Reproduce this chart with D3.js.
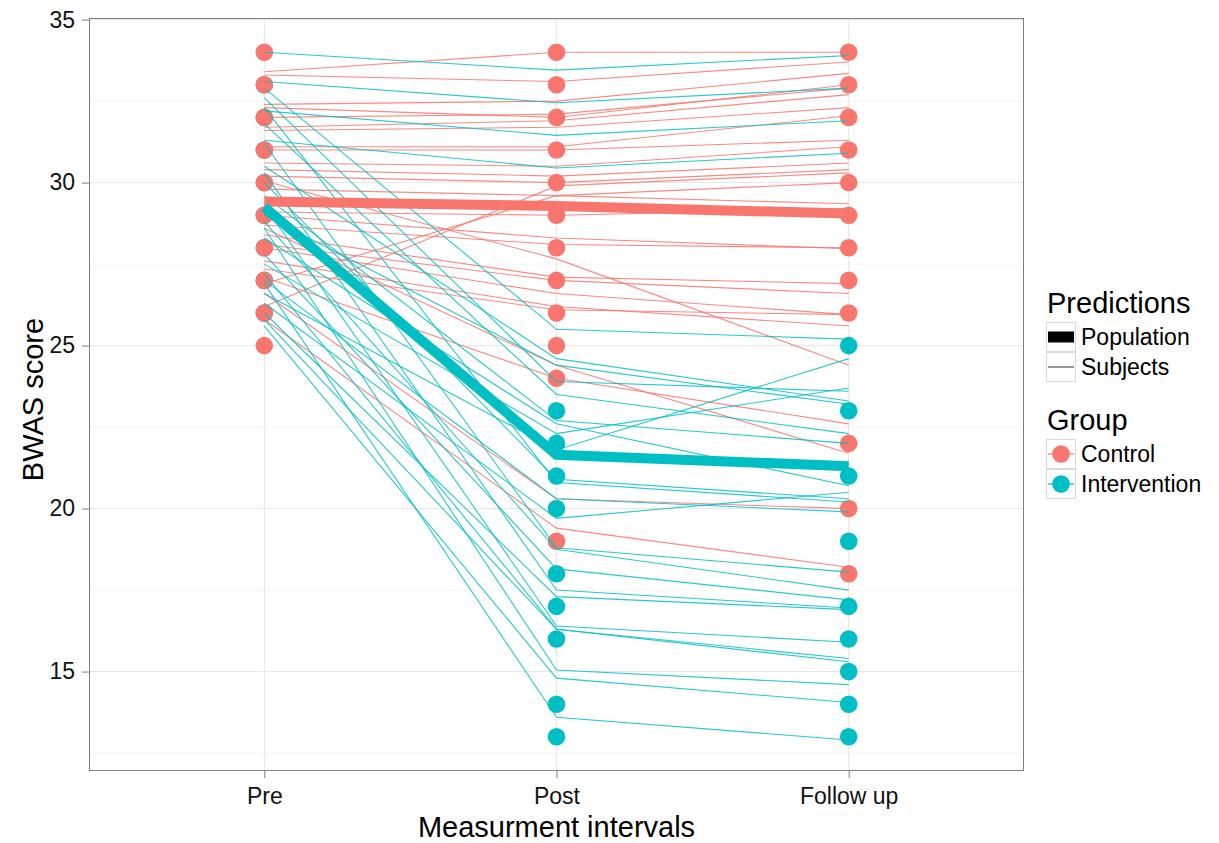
<!DOCTYPE html>
<html>
<head>
<meta charset="utf-8">
<script src="https://cdn.jsdelivr.net/npm/d3@7"></script>
<style>
  html, body { margin: 0; padding: 0; background: #fff; }
  svg text { font-family: "Liberation Sans", Arial, sans-serif; }
</style>
</head>
<body>
<svg id="chart" width="1219" height="843"></svg>
<script>
// Measurement occasions and axis ticks
const timepoints = ["Pre", "Post", "Follow up"];
const yTicks = [15, 20, 25, 30, 35];
const yMinorTicks = [12.5, 17.5, 22.5, 27.5, 32.5];

// Observed BWAS scores (distinct values shown at each occasion)
const controlObsPre = [25, 26, 27, 28, 29, 30, 31, 32, 33, 34];
const controlObsPost = [19, 24, 25, 26, 27, 28, 29, 30, 31, 32, 33, 34];
const controlObsFollow = [18, 20, 22, 26, 27, 28, 29, 30, 31, 32, 33, 34];
const interventionObsPre = [26, 27, 28, 29, 30, 31, 32, 33];
const interventionObsPost = [13, 14, 16, 17, 18, 20, 21, 22, 23];
const interventionObsFollow = [13, 14, 15, 16, 17, 19, 21, 23, 25];

// Model predictions per subject: [Pre, Post, Follow up]
const controlSubjects = [
  [33.4, 34.0, 34.0], [33.3, 33.1, 33.7], [32.4, 32.5, 33.35], [32.3, 32.0, 33.0],
  [32.0, 32.1, 32.9], [31.7, 31.9, 32.7], [31.6, 31.7, 32.3], [31.1, 31.1, 32.05],
  [31.0, 31.0, 31.3], [30.6, 30.5, 31.1], [30.4, 30.2, 30.6], [30.2, 30.0, 30.4],
  [29.8, 29.6, 30.0], [29.1, 29.0, 29.2], [29.0, 28.3, 27.97], [28.7, 28.1, 28.0],
  [30.05, 27.66, 24.4], [28.4, 27.1, 26.9], [28.1, 27.0, 26.6], [28.0, 26.6, 25.95],
  [27.6, 26.2, 25.6], [27.35, 26.1, 25.95], [27.1, 24.0, 22.6], [28.6, 24.4, 21.7],
  [25.8, 19.4, 18.2], [26.6, 20.3, 20.0], [26.2, 29.9, 30.3], [26.9, 29.6, 29.35]
];
const interventionSubjects = [
  [34.0, 33.45, 33.9], [33.1, 32.45, 32.9], [32.2, 31.45, 31.9], [31.3, 30.45, 30.9],
  [32.9, 25.5, 25.2], [30.5, 24.6, 23.3], [29.0, 24.4, 23.2], [32.6, 23.9, 23.6],
  [27.5, 22.3, 23.7], [26.6, 21.8, 24.6], [31.8, 23.5, 22.3], [29.6, 22.7, 22.0],
  [28.3, 22.6, 20.7], [30.0, 20.9, 20.3], [32.3, 20.8, 20.2], [27.0, 20.3, 19.9],
  [26.3, 19.7, 20.5], [31.2, 18.8, 18.05], [28.8, 18.75, 17.5], [27.8, 18.15, 17.2],
  [30.3, 17.5, 16.95], [26.0, 17.3, 16.9], [29.3, 16.4, 15.9], [27.2, 16.3, 15.4],
  [25.8, 16.3, 15.3], [28.6, 15.05, 14.6], [25.6, 14.8, 14.05], [26.9, 13.6, 12.9]
];

// Population-level predictions
const populationControl = [29.42, 29.28, 29.05];
const populationIntervention = [29.25, 21.65, 21.3];

const colors = { Control: "#F8766D", Intervention: "#00BFC4" };

const svg = d3.select("#chart");
const panel = { left: 89, right: 1024, top: 18, bottom: 771 };

const x = d3.scalePoint()
  .domain(timepoints)
  .range([panel.left, panel.right])
  .padding(0.6);

const y = d3.scaleLinear()
  .domain([11.95, 35.05])
  .range([panel.bottom, panel.top]);

// Panel background and grid
svg.append("rect")
  .attr("x", panel.left).attr("y", panel.top)
  .attr("width", panel.right - panel.left).attr("height", panel.bottom - panel.top)
  .attr("fill", "#fff");

const grid = svg.append("g");
grid.selectAll("line.minor").data(yMinorTicks).join("line")
  .attr("class", "minor")
  .attr("x1", panel.left).attr("x2", panel.right)
  .attr("y1", d => y(d)).attr("y2", d => y(d))
  .attr("stroke", "#f4f4f4").attr("stroke-width", 1);
grid.selectAll("line.majorY").data(yTicks).join("line")
  .attr("class", "majorY")
  .attr("x1", panel.left).attr("x2", panel.right)
  .attr("y1", d => y(d)).attr("y2", d => y(d))
  .attr("stroke", "#e6e6e6").attr("stroke-width", 1);
grid.selectAll("line.majorX").data(timepoints).join("line")
  .attr("class", "majorX")
  .attr("y1", panel.top).attr("y2", panel.bottom)
  .attr("x1", d => x(d)).attr("x2", d => x(d))
  .attr("stroke", "#e6e6e6").attr("stroke-width", 1);

// Observed points
const pts = [];
function addPoints(group, time, vals) { vals.forEach(v => pts.push({ group, time, v })); }
addPoints("Intervention", "Pre", interventionObsPre);
addPoints("Intervention", "Post", interventionObsPost);
addPoints("Intervention", "Follow up", interventionObsFollow);
addPoints("Control", "Pre", controlObsPre);
addPoints("Control", "Post", controlObsPost);
addPoints("Control", "Follow up", controlObsFollow);

svg.append("g").selectAll("circle").data(pts).join("circle")
  .attr("cx", d => x(d.time))
  .attr("cy", d => y(d.v))
  .attr("r", 8.8)
  .attr("fill", d => colors[d.group]);

// Subject-level prediction lines
const line = d3.line()
  .x((d, i) => x(timepoints[i]))
  .y(d => y(d));

const subj = svg.append("g").attr("fill", "none");
subj.selectAll("path.c").data(controlSubjects).join("path")
  .attr("class", "c")
  .attr("d", line)
  .attr("stroke", colors.Control)
  .attr("stroke-width", 1.1)
  .attr("stroke-opacity", 0.85);
subj.selectAll("path.i").data(interventionSubjects).join("path")
  .attr("class", "i")
  .attr("d", line)
  .attr("stroke", colors.Intervention)
  .attr("stroke-width", 1.1)
  .attr("stroke-opacity", 0.85);

// Population prediction lines
const pop = svg.append("g").attr("fill", "none");
pop.append("path").attr("d", line(populationControl))
  .attr("stroke", colors.Control).attr("stroke-width", 10);
pop.append("path").attr("d", line(populationIntervention))
  .attr("stroke", colors.Intervention).attr("stroke-width", 10);

// Panel border
svg.append("rect")
  .attr("x", panel.left + 0.5).attr("y", panel.top + 0.5)
  .attr("width", panel.right - panel.left - 1).attr("height", panel.bottom - panel.top - 1)
  .attr("fill", "none").attr("stroke", "#7f7f7f").attr("stroke-width", 1);

// Axes
const yAxis = d3.axisLeft(y).tickValues(yTicks).tickSize(7).tickPadding(7);
const gy = svg.append("g").attr("transform", `translate(${panel.left},0)`).call(yAxis);
const xAxis = d3.axisBottom(x).tickSize(7).tickPadding(10);
const gx = svg.append("g").attr("transform", `translate(0,${panel.bottom})`).call(xAxis);
[gy, gx].forEach(g => {
  g.select(".domain").remove();
  g.selectAll(".tick line").attr("stroke", "#7f7f7f");
  g.selectAll(".tick text")
    .attr("fill", "#111")
    .style("font-size", "23px")
    .style("font-family", "'Liberation Sans', Arial, sans-serif");
});

// Axis titles
svg.append("text")
  .attr("x", (panel.left + panel.right) / 2).attr("y", 837)
  .attr("text-anchor", "middle")
  .style("font-size", "29px").attr("fill", "#000")
  .text("Measurment intervals");
svg.append("text")
  .attr("transform", `translate(43,${(panel.top + panel.bottom) / 2 + 5}) rotate(-90)`)
  .attr("text-anchor", "middle")
  .style("font-size", "29px").attr("fill", "#000")
  .text("BWAS score");

// Legends
const lg = svg.append("g");
lg.append("text").attr("x", 1047).attr("y", 313).style("font-size", "29px").text("Predictions");
const predKeys = [{ label: "Population", w: 11, y: 322 }, { label: "Subjects", w: 1, y: 352 }];
predKeys.forEach(k => {
  lg.append("rect").attr("x", 1046.5).attr("y", k.y + 0.5).attr("width", 29).attr("height", 29)
    .attr("fill", "#fff").attr("stroke", "#d9d9d9");
  lg.append("line").attr("x1", 1048).attr("x2", 1074).attr("y1", k.y + 15).attr("y2", k.y + 15)
    .attr("stroke", k.w > 2 ? "#000" : "#333").attr("stroke-width", k.w);
  lg.append("text").attr("x", 1081).attr("y", k.y + 23).style("font-size", "23px").text(k.label);
});

lg.append("text").attr("x", 1047).attr("y", 430).style("font-size", "29px").text("Group");
const groupKeys = [{ label: "Control", y: 439 }, { label: "Intervention", y: 469 }];
groupKeys.forEach(k => {
  lg.append("rect").attr("x", 1046.5).attr("y", k.y + 0.5).attr("width", 29).attr("height", 29)
    .attr("fill", "#fff").attr("stroke", "#d9d9d9");
  lg.append("line").attr("x1", 1048).attr("x2", 1074).attr("y1", k.y + 15).attr("y2", k.y + 15)
    .attr("stroke", colors[k.label]).attr("stroke-width", 1.2);
  lg.append("circle").attr("cx", 1061).attr("cy", k.y + 15).attr("r", 8.8).attr("fill", colors[k.label]);
  lg.append("text").attr("x", 1081).attr("y", k.y + 23).style("font-size", "23px").text(k.label);
});
</script>
</body>
</html>
